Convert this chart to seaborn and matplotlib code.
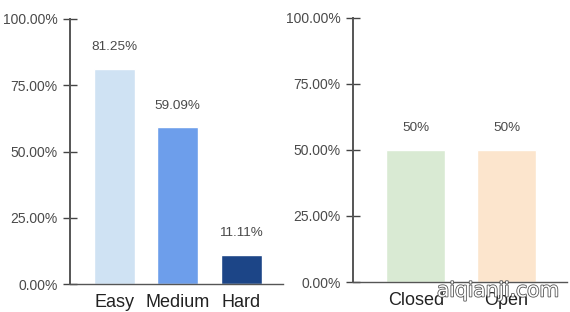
import matplotlib
matplotlib.use("Agg")
import matplotlib.pyplot as plt
import matplotlib.patheffects as pe
import seaborn as sns
import pandas as pd
from matplotlib.ticker import PercentFormatter

difficulty = ["Easy", "Medium", "Hard"]
difficulty_rate = [0.8125, 0.5909, 0.1111]
difficulty_labels = ["81.25%", "59.09%", "11.11%"]
difficulty_colors = ["#cfe2f3", "#6d9eeb", "#1c4587"]

status = ["Closed", "Open"]
status_rate = [0.50, 0.50]
status_labels = ["50%", "50%"]
status_colors = ["#d9ead3", "#fce5cd"]

yticks = [0.0, 0.25, 0.50, 0.75, 1.0]

sns.set_theme(style="white")
plt.rcParams["font.family"] = ["Liberation Sans", "DejaVu Sans"]

W, H = 570, 312
fig = plt.figure(figsize=(W / 100, H / 100), dpi=100)

def box(x0, x1, ytop, ybot):
    return [x0 / W, 1 - ybot / H, (x1 - x0) / W, (ybot - ytop) / H]

ax1 = fig.add_axes(box(70, 283, 19, 284))
ax2 = fig.add_axes(box(353, 567, 17.5, 282))

def draw(ax, cats, vals, labels, colors, xlim, width):
    df = pd.DataFrame({"cat": cats, "val": vals})
    sns.barplot(data=df, x="cat", y="val", hue="cat", palette=colors,
                width=width, legend=False, ax=ax, saturation=1)
    ax.set_xlim(*xlim)
    ax.set_ylim(0, 1)
    ax.set_yticks(yticks)
    ax.yaxis.set_major_formatter(PercentFormatter(1.0, decimals=2))
    ax.set_xlabel("")
    ax.set_ylabel("")
    for s in ["top", "right"]:
        ax.spines[s].set_visible(False)
    ax.spines["left"].set_color("#555555")
    ax.spines["left"].set_linewidth(1.4)
    ax.spines["bottom"].set_color("#555555")
    ax.spines["bottom"].set_linewidth(1.0)
    ax.tick_params(axis="y", direction="inout", length=10, width=1.0,
                   color="#444444", labelsize=10, labelcolor="#4a4a4a", pad=4.0, left=True)
    ax.tick_params(axis="x", length=0, labelsize=13, labelcolor="#222222", pad=7.5)
    for i, (v, t) in enumerate(zip(vals, labels)):
        ax.annotate(t, (i, v), xytext=(0, 15.5), textcoords="offset points",
                    ha="center", va="center", fontsize=9.7, color="#4a4a4a")

draw(ax1, difficulty, difficulty_rate, difficulty_labels, difficulty_colors,
     (-0.693, 2.654), 0.646)
draw(ax2, status, status_rate, status_labels, status_colors,
     (-0.69, 1.665), 0.65)

fig.text(498 / W, 1 - 291 / H, "aiqianji.com", ha="center", va="center",
         fontsize=14.5, color="white", family=["DejaVu Sans"],
         path_effects=[pe.withStroke(linewidth=1.2, foreground="#555555")])

fig.savefig("out.png", dpi=100)
